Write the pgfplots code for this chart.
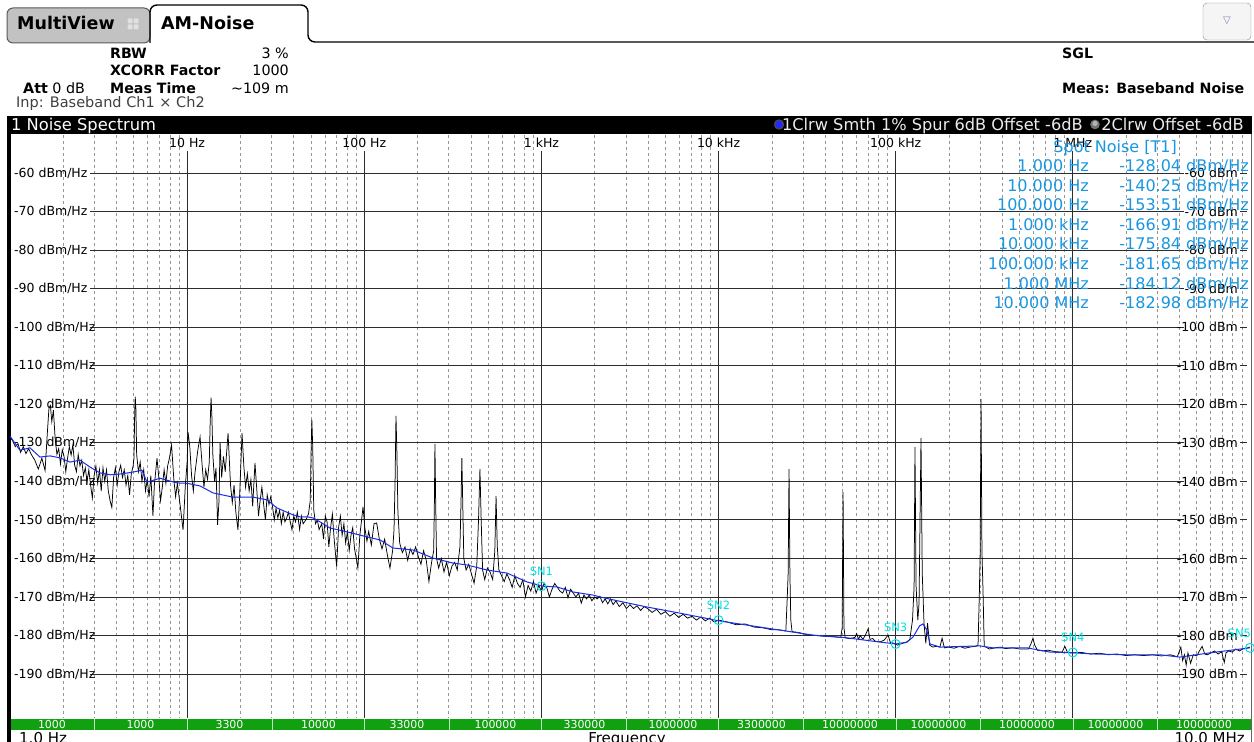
\documentclass[border=0pt]{standalone}
\usepackage{fontspec}
\setmainfont{DejaVu Sans}
\usepackage{pgfplots}
\usepackage{pgfplotstable}
\pgfplotsset{compat=1.18}
\definecolor{trblue}{RGB}{25,45,230}
\definecolor{spot}{RGB}{25,150,225}
\definecolor{snc}{RGB}{0,225,230}
\definecolor{bandgreen}{RGB}{16,160,16}
\definecolor{gridd}{RGB}{150,150,150}
\definecolor{gridm}{RGB}{45,45,45}
\newcommand\fs[1]{\fontsize{#1bp}{#1bp}\selectfont}

% x = log10(frequency / Hz), y = level in dBm/Hz
\pgfplotstableread{
lf db
0.000 -128.5
0.015 -129.5
0.030 -131.0
0.045 -130.2
0.060 -132.5
0.075 -131.0
0.090 -132.8
0.105 -131.5
0.120 -133.0
0.140 -134.5
0.160 -136.8
0.180 -134.0
0.198 -137.2
0.210 -128.0
0.220 -121.0
0.228 -120.3
0.236 -124.5
0.245 -121.5
0.255 -129.0
0.265 -133.0
0.275 -131.5
0.285 -135.5
0.295 -131.8
0.305 -133.5
0.315 -137.5
0.325 -134.0
0.335 -131.0
0.345 -133.2
0.355 -130.5
0.365 -135.8
0.375 -137.5
0.385 -133.0
0.395 -136.0
0.405 -134.5
0.415 -138.5
0.425 -136.5
0.435 -140.0
0.445 -137.0
0.455 -141.0
0.465 -144.3
0.475 -138.5
0.485 -136.0
0.495 -140.5
0.505 -137.0
0.515 -142.5
0.525 -136.5
0.535 -140.0
0.545 -137.0
0.555 -142.5
0.565 -145.0
0.575 -146.8
0.585 -139.0
0.595 -136.5
0.605 -141.0
0.615 -137.5
0.625 -135.8
0.635 -139.0
0.645 -137.0
0.655 -141.0
0.665 -138.5
0.675 -143.5
0.685 -138.0
0.695 -136.0
0.700 -134.0
0.704 -122.0
0.707 -118.0
0.711 -121.5
0.715 -133.0
0.725 -137.5
0.735 -135.0
0.745 -140.0
0.755 -137.0
0.765 -142.5
0.775 -139.5
0.785 -144.0
0.795 -138.5
0.807 -149.0
0.815 -141.0
0.830 -134.0
0.840 -139.0
0.850 -145.0
0.860 -141.5
0.870 -137.0
0.880 -140.5
0.890 -136.0
0.900 -134.0
0.912 -130.6
0.925 -139.5
0.935 -144.0
0.945 -140.5
0.960 -146.0
0.977 -152.6
0.990 -141.0
1.000 -135.0
1.005 -127.2
1.015 -131.0
1.025 -138.5
1.035 -142.5
1.045 -137.5
1.060 -132.0
1.073 -128.5
1.085 -136.0
1.095 -141.5
1.105 -137.0
1.115 -139.5
1.125 -135.0
1.130 -125.0
1.135 -118.3
1.140 -123.5
1.145 -133.0
1.155 -140.0
1.163 -136.5
1.172 -151.3
1.180 -145.0
1.186 -130.0
1.195 -139.0
1.205 -133.5
1.215 -137.5
1.231 -127.5
1.245 -141.0
1.255 -145.5
1.265 -141.0
1.275 -148.0
1.287 -152.6
1.297 -143.0
1.310 -127.5
1.320 -136.0
1.330 -141.5
1.340 -138.0
1.350 -142.5
1.360 -139.5
1.370 -146.5
1.383 -135.2
1.393 -142.0
1.403 -149.0
1.412 -145.0
1.422 -141.5
1.432 -146.0
1.442 -150.0
1.452 -143.5
1.462 -146.0
1.472 -144.0
1.482 -146.5
1.492 -150.0
1.502 -147.0
1.512 -149.5
1.522 -147.5
1.532 -151.0
1.542 -148.0
1.552 -150.5
1.562 -149.5
1.572 -148.0
1.582 -150.5
1.592 -152.6
1.602 -149.0
1.612 -150.5
1.622 -148.0
1.635 -152.5
1.645 -149.0
1.655 -151.0
1.670 -150.0
1.685 -148.5
1.695 -145.0
1.700 -132.0
1.704 -124.0
1.709 -131.0
1.715 -147.5
1.725 -151.0
1.735 -150.0
1.745 -152.5
1.760 -151.0
1.770 -155.0
1.780 -149.0
1.790 -150.5
1.800 -157.0
1.810 -152.0
1.820 -148.5
1.830 -155.0
1.844 -162.1
1.855 -152.0
1.865 -149.0
1.875 -154.0
1.885 -151.0
1.895 -156.0
1.905 -153.0
1.915 -158.0
1.925 -154.0
1.935 -152.0
1.945 -157.5
1.955 -160.0
1.964 -162.5
1.975 -154.0
1.985 -150.0
1.993 -146.6
2.003 -152.0
2.015 -155.5
2.025 -153.0
2.040 -156.5
2.055 -151.0
2.070 -150.8
2.085 -155.0
2.100 -157.5
2.115 -155.0
2.130 -159.0
2.145 -162.5
2.160 -158.0
2.168 -152.5
2.174 -140.0
2.179 -123.0
2.184 -132.0
2.190 -148.0
2.200 -156.0
2.215 -158.5
2.230 -157.0
2.245 -160.5
2.260 -157.5
2.275 -159.0
2.290 -157.0
2.305 -159.5
2.320 -161.5
2.335 -158.0
2.350 -160.5
2.365 -166.0
2.380 -161.0
2.392 -158.0
2.396 -145.0
2.399 -130.3
2.403 -145.0
2.408 -160.0
2.420 -162.5
2.435 -160.0
2.450 -163.5
2.465 -161.0
2.480 -164.5
2.495 -162.0
2.510 -161.0
2.525 -163.0
2.540 -157.0
2.546 -146.0
2.551 -134.0
2.556 -146.0
2.562 -160.0
2.575 -163.0
2.590 -161.5
2.605 -164.0
2.620 -166.4
2.635 -162.0
2.645 -150.0
2.653 -136.8
2.660 -150.0
2.668 -163.0
2.680 -165.5
2.695 -162.5
2.710 -163.5
2.725 -165.5
2.737 -158.0
2.744 -143.8
2.751 -157.0
2.760 -163.0
2.775 -164.5
2.790 -166.0
2.805 -164.0
2.820 -165.5
2.835 -167.5
2.850 -164.5
2.865 -166.5
2.880 -167.5
2.895 -165.5
2.910 -170.0
2.925 -167.0
2.940 -168.5
2.955 -166.0
2.970 -169.0
2.985 -167.0
3.000 -168.5
3.015 -166.5
3.030 -167.5
3.045 -170.0
3.060 -168.0
3.075 -166.5
3.090 -167.5
3.105 -168.5
3.120 -169.0
3.135 -167.5
3.150 -170.2
3.165 -168.0
3.180 -169.0
3.195 -170.0
3.210 -169.0
3.225 -171.6
3.240 -169.5
3.255 -170.5
3.270 -169.5
3.285 -171.0
3.300 -170.0
3.315 -170.5
3.330 -169.8
3.345 -171.5
3.360 -170.5
3.375 -171.8
3.390 -170.5
3.405 -172.0
3.420 -171.0
3.440 -172.5
3.460 -171.5
3.480 -173.0
3.500 -172.0
3.520 -173.0
3.540 -172.3
3.560 -173.5
3.580 -172.5
3.600 -173.0
3.625 -174.0
3.650 -173.2
3.675 -174.5
3.700 -173.8
3.725 -175.0
3.750 -174.2
3.775 -175.3
3.800 -174.5
3.825 -175.5
3.850 -175.0
3.875 -176.0
3.900 -175.2
3.925 -176.2
3.950 -175.5
3.975 -176.5
4.000 -176.0
4.050 -176.5
4.100 -177.2
4.150 -177.0
4.200 -177.8
4.250 -178.0
4.300 -178.5
4.340 -178.5
4.380 -178.8
4.388 -170.0
4.393 -164.0
4.398 -136.8
4.403 -164.0
4.408 -176.0
4.415 -179.0
4.450 -179.2
4.500 -179.8
4.550 -180.0
4.600 -180.2
4.650 -180.3
4.690 -180.5
4.698 -178.0
4.703 -142.8
4.708 -178.0
4.715 -180.6
4.740 -180.8
4.770 -180.5
4.780 -179.5
4.790 -181.0
4.800 -180.0
4.815 -181.0
4.830 -179.8
4.845 -178.2
4.855 -181.0
4.870 -180.8
4.885 -181.5
4.900 -181.6
4.915 -181.6
4.935 -181.2
4.957 -179.9
4.970 -181.8
4.990 -182.0
5.010 -182.5
5.040 -182.0
5.060 -181.8
5.080 -181.0
5.095 -176.0
5.104 -167.4
5.109 -131.1
5.115 -167.0
5.125 -176.0
5.132 -171.6
5.143 -128.7
5.150 -163.8
5.160 -176.8
5.170 -182.0
5.180 -176.8
5.192 -182.5
5.210 -183.0
5.230 -182.8
5.250 -183.0
5.262 -180.7
5.275 -183.2
5.300 -183.0
5.330 -183.3
5.360 -182.8
5.390 -183.3
5.420 -183.0
5.450 -182.8
5.465 -182.5
5.472 -170.0
5.477 -158.6
5.482 -118.6
5.487 -158.0
5.493 -168.2
5.500 -182.8
5.530 -183.5
5.560 -183.2
5.590 -183.0
5.620 -183.4
5.660 -183.2
5.700 -183.5
5.750 -183.5
5.765 -182.0
5.775 -180.7
5.785 -182.5
5.800 -183.8
5.830 -184.0
5.860 -183.8
5.900 -184.2
5.940 -184.3
5.955 -182.8
5.970 -184.4
6.000 -184.5
6.050 -184.4
6.100 -184.8
6.150 -184.6
6.200 -185.0
6.250 -184.8
6.300 -185.2
6.350 -185.0
6.400 -185.2
6.450 -185.0
6.500 -185.3
6.550 -185.0
6.590 -185.5
6.610 -183.0
6.620 -186.5
6.630 -185.0
6.640 -187.7
6.650 -184.5
6.665 -187.2
6.680 -185.0
6.700 -185.3
6.715 -184.0
6.730 -182.8
6.745 -184.8
6.760 -185.0
6.780 -184.5
6.800 -184.0
6.820 -184.8
6.840 -184.2
6.855 -187.0
6.865 -184.5
6.880 -184.0
6.900 -184.3
6.920 -183.5
6.940 -184.0
6.960 -183.5
6.980 -183.3
7.000 -183.0
}\blacktr

\pgfplotstableread{
lf db
0.000 -128.3
0.056 -131.9
0.113 -131.3
0.169 -133.7
0.226 -133.4
0.282 -133.9
0.339 -135.0
0.395 -134.5
0.452 -136.3
0.508 -137.8
0.565 -138.3
0.621 -138.1
0.694 -137.6
0.745 -137.1
0.773 -140.2
0.847 -139.2
0.886 -139.7
0.943 -140.4
0.999 -140.5
1.073 -141.2
1.146 -143.0
1.259 -144.1
1.372 -144.1
1.451 -144.8
1.507 -146.9
1.598 -148.7
1.637 -149.2
1.677 -149.2
1.711 -149.5
1.750 -150.5
1.806 -152.1
1.902 -153.1
2.015 -154.4
2.089 -155.2
2.162 -157.3
2.275 -157.8
2.388 -159.9
2.501 -161.2
2.580 -161.7
2.693 -163.0
2.806 -163.8
2.919 -166.1
3.009 -167.2
3.088 -167.4
3.178 -168.7
3.291 -169.5
3.331 -170.0
3.461 -171.3
3.596 -172.6
3.782 -174.2
4.003 -176.2
4.161 -177.3
4.347 -178.6
4.533 -179.9
4.725 -180.6
4.911 -181.7
5.002 -182.2
5.064 -181.7
5.098 -180.4
5.135 -177.5
5.154 -177.0
5.175 -178.5
5.194 -182.2
5.250 -183.0
5.476 -182.7
5.549 -183.2
5.741 -183.2
5.871 -184.3
6.001 -184.5
6.127 -184.8
6.306 -185.0
6.492 -185.0
6.605 -185.6
6.774 -184.5
7.000 -183.2
}\bluetr

\begin{document}
\begin{tikzpicture}[x=1bp,y=1bp]
\useasboundingbox (0,0) rectangle (1254,742);
\fill[white] (0,0) rectangle (1254,742);
\begin{scope}[shift={(0,742)},y=-1bp]
% ---- tabs
\draw[black!65, line width=1bp, fill=black!24, rounded corners=6bp] (7,43) -- (7,8) -- (150,8) -- (150,43) -- cycle;
\draw[line width=1.4bp, rounded corners=7bp] (150,43) -- (150,5) -- (308,5) -- (308,42) -- (1254,42);
\node[anchor=base west, inner sep=0, font={\fs{17.5}\bfseries}] at (17,30) {MultiView};
\node[anchor=base west, inner sep=0, font={\fs{17.5}\bfseries}] at (161,30) {AM-Noise};
\foreach \a/\b in {127.5/18.5,133.5/18.5,127.5/24.5,133.5/24.5}
  \fill[black!12, rounded corners=1bp] (\a,\b) rectangle ++(5,5);
\draw[black!45, rounded corners=4bp, fill=black!4] (1203,3) rectangle (1251,40);
\node[font=\fs{10}, text=black!50!blue!50] at (1227,21) {▽};
% ---- header texts
\node[anchor=base west,inner sep=0,font={\fs{14.2}\bfseries}] at (110,58.5) {RBW};
\node[anchor=base east,inner sep=0,font=\fs{14.3}] at (289,58.5) {3 \%};
\node[anchor=base west,inner sep=0,font={\fs{14.2}\bfseries}] at (110,76) {XCORR Factor};
\node[anchor=base east,inner sep=0,font=\fs{14.3}] at (289,76) {1000};
\node[anchor=base west,inner sep=0,font=\fs{14.3}] at (23,93.5) {\textbf{Att} 0 dB};
\node[anchor=base west,inner sep=0,font={\fs{14.2}\bfseries}] at (110,93.5) {Meas Time};
\node[anchor=base east,inner sep=0,font=\fs{14.3}] at (289,93.5) {∼109 m};
\node[anchor=base west,inner sep=0,font=\fs{14.5},text=black!75] at (16,108) {Inp: Baseband Ch1 × Ch2};
\node[anchor=base west,inner sep=0,font={\fs{14.2}\bfseries}] at (1062,58.5) {SGL};
\node[anchor=base west,inner sep=0,font={\fs{14.2}\bfseries}] at (1062,93.5) {Meas: Baseband Noise};
% ---- title bar and frame
\fill[black] (7,116) rectangle (1252,134.5);
\fill[black] (7,116) rectangle (10.5,742);
\draw[black!60, line width=0.8bp] (1251.5,134) -- (1251.5,742);
\node[anchor=base west,inner sep=0,font=\fs{16.3},text=white] at (11,130.5) {1 Noise Spectrum};
\fill[black!70] (779,124.5) circle (5.2);
\fill[blue!85] (779,124.5) circle (3.8);
\node[anchor=base east,inner sep=0,font=\fs{16.2},text=black!8] at (1083,130.5) {1Clrw Smth 1\% Spur 6dB Offset -6dB};
\fill[black!55] (1095,124.5) circle (4.8);
\fill[black!30] (1095,123.5) circle (2.6);
\node[anchor=base east,inner sep=0,font=\fs{16.2},text=black!8] at (1244,130.5) {2Clrw Offset -6dB};
% ---- grid
\foreach \k in {0,...,6}{\foreach \m in {2,...,9}{
  \pgfmathsetmacro\xx{10+177.143*(\k+log10(\m))}
  \draw[gridd, line width=0.7bp, dash pattern=on 3bp off 3bp] (\xx,135) -- (\xx,718);
}}
\foreach \k/\lab in {1/10 Hz,2/100 Hz,3/1 kHz,4/10 kHz,5/100 kHz,6/1 MHz}{
  \pgfmathsetmacro\xx{10+177.143*\k}
  \draw[gridm, line width=0.9bp] (\xx,151) -- (\xx,718);
  \node[inner sep=0,font=\fs{12.5}] at (\xx,143) {\lab};
}
\foreach \v in {60,70,...,190}{
  \pgfmathsetmacro\yy{134.5+(\v-50)*3.854}
  \draw[gridm, line width=0.9bp] (90,\yy) -- (1184,\yy);
  \draw[gridm, line width=0.9bp] (1240,\yy) -- (1247,\yy);
  \node[anchor=west,inner sep=0,font=\fs{12.5}] at (14,\yy) {-\v\ dBm/Hz};
  \node[anchor=east,inner sep=0,font=\fs{12.5}] at (1238,\yy) {-\v\ dBm};
}
% ---- bottom band
\fill[bandgreen] (10.5,719) rectangle (1250.5,730);
\foreach \xb in {94,187,272,364,449,541,626,718,803,896,980,1073,1157}
  \draw[white!75!bandgreen, line width=0.8bp] (\xb,719) -- (\xb,730);
\foreach \xc/\t in {52/1000,140.5/1000,229.5/3300,318.5/10000,407/33000,495.5/100000,584.5/330000,673/1000000,761.5/3300000,850/10000000,938.5/10000000,1027/10000000,1115.5/10000000,1204/10000000}
  \node[inner sep=0,font=\fs{11},text=white] at (\xc,725) {\t};
\node[anchor=base west,inner sep=0,font=\fs{15}] at (19,743.5) {1.0 Hz};
\node[anchor=base,inner sep=0,font=\fs{15}] at (627,743.5) {Frequency};
\node[anchor=base east,inner sep=0,font=\fs{15}] at (1245,743.5) {10.0 MHz};
\end{scope}

\begin{axis}[at={(10bp,29.4bp)}, anchor=south west, scale only axis,
  width=1240bp, height=578.1bp, xmin=0, xmax=7, ymin=-200, ymax=-50, hide axis]
\addplot[black, line width=0.75bp] table[x=lf,y=db] {\blacktr};
\addplot[trblue, line width=1bp] table[x=lf,y=db] {\bluetr};
\addplot[only marks, mark=o, mark size=4.5bp, draw=snc, line width=1bp] coordinates {(3,-167.2) (4,-176.0) (5,-182.2) (6,-184.4) (7,-183.2)};
\node[text=snc, inner sep=0, font=\fs{11.5}] at (axis cs:3,-163.3) {SN1};
\node[text=snc, inner sep=0, font=\fs{11.5}] at (axis cs:4,-172.1) {SN2};
\node[text=snc, inner sep=0, font=\fs{11.5}] at (axis cs:5,-178.0) {SN3};
\node[text=snc, inner sep=0, font=\fs{11.5}] at (axis cs:6,-180.5) {SN4};
\node[text=snc, inner sep=0, font=\fs{11.5}] at (axis cs:6.94,-179.4) {SN5};
\end{axis}

\begin{scope}[shift={(0,742)},y=-1bp]
\node[anchor=base east,inner sep=0,font=\fs{16},text=spot] at (1177,152.5) {Spot Noise [T1]};
\foreach \i/\f/\d in {0/1.000 Hz/-128.04,1/10.000 Hz/-140.25,2/100.000 Hz/-153.51,3/1.000 kHz/-166.91,4/10.000 kHz/-175.84,5/100.000 kHz/-181.65,6/1.000 MHz/-184.12,7/10.000 MHz/-182.98}{
  \pgfmathsetmacro\yy{171.5+19.6*\i}
  \node[anchor=base east,inner sep=0,font=\fs{16},text=spot] at (1089,\yy) {\f};
  \node[anchor=base east,inner sep=0,font=\fs{16},text=spot] at (1249,\yy) {\d\ dBm/Hz};
}
\end{scope}
\end{tikzpicture}
\end{document}
